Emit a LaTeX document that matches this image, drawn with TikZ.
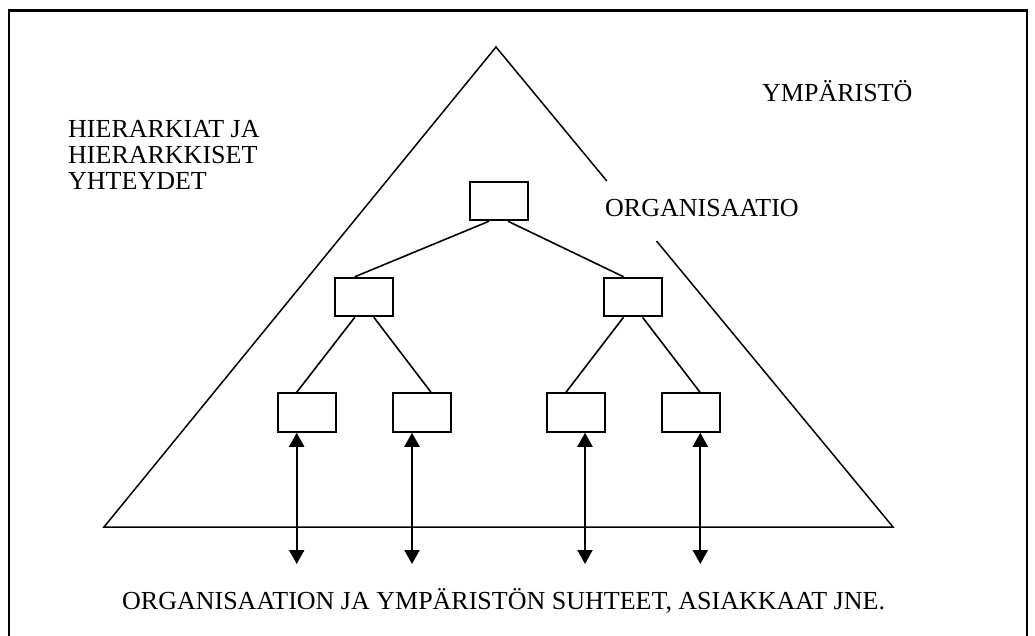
\documentclass[tikz,border=0pt]{standalone}
\usepackage{fontspec}
\setmainfont{Liberation Serif}
\usetikzlibrary{arrows.meta,calc}
\begin{document}
\begin{tikzpicture}[x=1pt,y=-1pt,
  unit/.style={draw,line width=2pt,minimum width=58pt,minimum height=38.5pt,inner sep=0pt},
  link/.style={line width=1.6pt},
  edge/.style={line width=1.5pt},
  flow/.style={line width=2pt,{Triangle[width=15pt,length=14pt]}-{Triangle[width=15pt,length=14pt]}},
  lbl/.style={anchor=base west,inner sep=0pt,font=\fontsize{26pt}{26pt}\selectfont}]
\useasboundingbox (0,0) rectangle (1035,636);

% outer frame
\draw[line width=2.5pt] (9,636) -- (9,10.5) -- (1027,10.5) -- (1027,636);

% the organisation triangle, its right side broken around the label
\coordinate (apex) at (496,47);
\coordinate (bl) at (104,527);
\coordinate (br) at (893,527);
\coordinate (gapA) at (606.8,181);
\coordinate (gapB) at (656.5,241);
\draw[edge] (gapA) -- (apex) -- (bl) -- (br) -- (gapB);

% hierarchy boxes
\node[unit] (top) at (498.5,201) {};
\node[unit] (ml) at (364.3,297) {};
\node[unit] (mr) at (633,297) {};
\node[unit] (b1) at (306.7,412.5) {};
\node[unit] (b2) at (422,412.5) {};
\node[unit] (b3) at (575.5,412.5) {};
\node[unit] (b4) at (691,412.5) {};

% hierarchical links
\draw[link] ([xshift=-9.5pt]top.south) -- ([xshift=-9.5pt]ml.north);
\draw[link] ([xshift=9.5pt]top.south) -- ([xshift=-9.5pt]mr.north);
\draw[link] ([xshift=-9.5pt]ml.south) -- ([xshift=-10pt]b1.north);
\draw[link] ([xshift=9.5pt]ml.south) -- ([xshift=9pt]b2.north);
\draw[link] ([xshift=-9.5pt]mr.south) -- ([xshift=-9.5pt]b3.north);
\draw[link] ([xshift=9.5pt]mr.south) -- ([xshift=9pt]b4.north);

% relations to the environment
\coordinate (e1) at (296.7,564);
\coordinate (e2) at (412,564);
\coordinate (e3) at (585,564);
\coordinate (e4) at (700.3,564);
\draw[flow] ([xshift=-10pt]b1.south) -- (e1);
\draw[flow] ([xshift=-10pt]b2.south) -- (e2);
\draw[flow] ([xshift=9.5pt]b3.south) -- (e3);
\draw[flow] ([xshift=9.3pt]b4.south) -- (e4);

% labels
\node[lbl] (env) at (762,101.7) {YMPÄRISTÖ};
\node[lbl] (org) at (605,216.7) {ORGANISAATIO};
\node[lbl] (h1) at (68,137.7) {HIERARKIAT JA};
\node[lbl] (h2) at (68,163.5) {HIERARKKISET};
\node[lbl] (h3) at (68,189.3) {YHTEYDET};
\node[lbl] (rel) at (122,609) {ORGANISAATION JA YMPÄRISTÖN SUHTEET, ASIAKKAAT JNE.};
\end{tikzpicture}
\end{document}
